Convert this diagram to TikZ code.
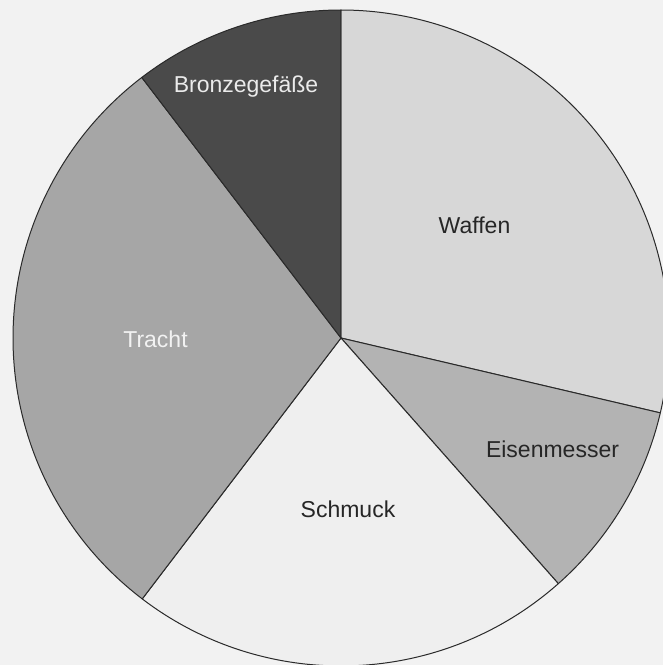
\documentclass[tikz,border=0pt]{standalone}
\usepackage{fontspec}
\setmainfont{Liberation Sans}
\definecolor{bgc}{HTML}{F2F2F2}
\definecolor{cwaffen}{HTML}{D7D7D7}
\definecolor{ceisen}{HTML}{B3B3B3}
\definecolor{cschmuck}{HTML}{EFEFEF}
\definecolor{ctracht}{HTML}{A6A6A6}
\definecolor{cbronze}{HTML}{4A4A4A}
\definecolor{cline}{HTML}{2A2A2A}
\begin{document}
\begin{tikzpicture}[x=1pt,y=1pt,
  slice/.style={draw=cline,line width=1pt,line join=round},
  lbl/.style={anchor=base,font=\fontsize{23}{26}\selectfont,inner sep=0pt}]
\def\R{328}
\fill[bgc] (-341,-327) rectangle (322,338);
\useasboundingbox (-341,-327) rectangle (322,338);
\coordinate (c) at (0,0);
\filldraw[slice,fill=cwaffen] (c) -- (90:\R) arc[start angle=90,end angle=-13.2,radius=\R] -- cycle;
\filldraw[slice,fill=ceisen] (c) -- (-13.2:\R) arc[start angle=-13.2,end angle=-48.5,radius=\R] -- cycle;
\filldraw[slice,fill=cschmuck] (c) -- (-48.5:\R) arc[start angle=-48.5,end angle=-127.3,radius=\R] -- cycle;
\filldraw[slice,fill=ctracht] (c) -- (232.7:\R) arc[start angle=232.7,end angle=127.4,radius=\R] -- cycle;
\filldraw[slice,fill=cbronze] (c) -- (127.4:\R) arc[start angle=127.4,end angle=90,radius=\R] -- cycle;
\node[lbl,text=white!92!black] (bronze) at (-95,245) {Bronzegefäße};
\node[lbl,text=black!85] (waffen) at (133.5,105) {Waffen};
\node[lbl,text=black!85] (eisen) at (211.5,-119) {Eisenmesser};
\node[lbl,text=black!85] (schmuck) at (7,-179) {Schmuck};
\node[lbl,text=white!95!black] (tracht) at (-185.5,-9) {Tracht};
\end{tikzpicture}
\end{document}
